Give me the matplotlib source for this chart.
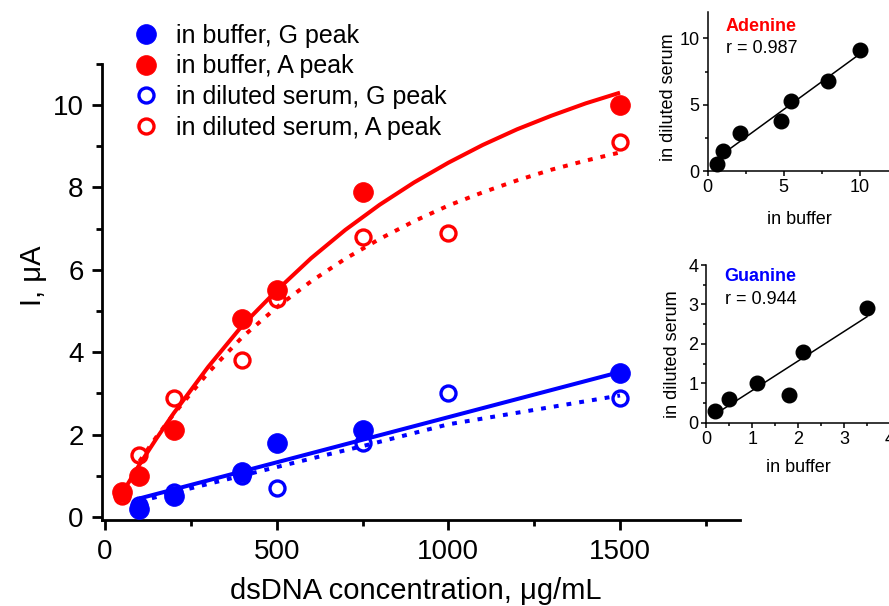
import matplotlib
matplotlib.use("Agg")
import matplotlib.pyplot as plt
import numpy as np
from matplotlib.ticker import MultipleLocator

plt.rcParams['font.family'] = ['Liberation Sans', 'DejaVu Sans']

# ---------------- data ----------------
conc_buf_A = [50, 100, 200, 400, 500, 750, 1500]
buf_A = [0.6, 1.0, 2.1, 4.8, 5.5, 7.9, 10.0]
conc_ser_A = [50, 100, 200, 400, 500, 750, 1000, 1500]
ser_A = [0.5, 1.5, 2.9, 3.8, 5.3, 6.8, 6.9, 9.1]
conc_buf_G = [100, 200, 400, 500, 750, 1500]
buf_G = [0.2, 0.5, 1.1, 1.8, 2.1, 3.5]
conc_ser_G = [100, 200, 400, 500, 750, 1000, 1500]
ser_G = [0.3, 0.6, 1.0, 0.7, 1.8, 3.0, 2.9]

# fitted curves as drawn in the picture
fit_buf_A_x = [50, 100, 150, 200, 300, 400, 500, 600, 700, 800, 900, 1000,
               1100, 1200, 1300, 1400, 1500]
fit_buf_A_y = [0.58, 1.27, 1.91, 2.52, 3.64, 4.65, 5.5, 6.28, 6.97, 7.58, 8.12, 8.6,
               9.03, 9.41, 9.74, 10.04, 10.3]
fit_ser_A_x = [100, 150, 200, 300, 400, 500, 600, 700, 800, 900, 1000,
               1100, 1200, 1300, 1400, 1500]
fit_ser_A_y = [1.35, 1.95, 2.5, 3.5, 4.37, 5.09, 5.72, 6.27, 6.75, 7.18, 7.56,
               7.88, 8.17, 8.43, 8.65, 8.85]
fit_buf_G_x = [100, 1500]
fit_buf_G_y = [0.45, 3.52]
fit_ser_G_x = [100, 270, 650, 750, 1000, 1500]
fit_ser_G_y = [0.38, 0.74, 1.52, 1.72, 2.25, 2.95]

legend_labels = ['in buffer, G peak', 'in buffer, A peak',
                 'in diluted serum, G peak', 'in diluted serum, A peak']
r_adenine = 'r = 0.987'
r_guanine = 'r = 0.944'

RED = '#ff0000'
BLUE = '#0000ff'

# ---------------- figure ----------------
fig = plt.figure(figsize=(8.89, 6.06), dpi=100)
ax = fig.add_axes([0.1151, 0.1414, 0.7175, 0.7533])

lw = 2.9
ax.plot(fit_buf_A_x, fit_buf_A_y, '-', color=RED, lw=lw, zorder=2, solid_capstyle='butt')
ax.plot(fit_ser_A_x, fit_ser_A_y, color=RED, lw=lw, dashes=(1.2, 2.0), zorder=2, dash_capstyle='butt')
ax.plot(fit_buf_G_x, fit_buf_G_y, '-', color=BLUE, lw=lw, zorder=2, solid_capstyle='butt')
ax.plot(fit_ser_G_x, fit_ser_G_y, color=BLUE, lw=lw, dashes=(1.2, 2.0), zorder=2, dash_capstyle='butt')

h_sG, = ax.plot(conc_ser_G, ser_G, 'o', ls='none', mfc='none', mec=BLUE, ms=10.8, mew=2.4, zorder=3)
h_sA, = ax.plot(conc_ser_A, ser_A, 'o', ls='none', mfc='none', mec=RED, ms=10.8, mew=2.4, zorder=3)
h_bG, = ax.plot(conc_buf_G, buf_G, 'o', ls='none', mfc=BLUE, mec=BLUE, ms=14.3, mew=0.5, zorder=4)
h_bA, = ax.plot(conc_buf_A, buf_A, 'o', ls='none', mfc=RED, mec=RED, ms=14.3, mew=0.5, zorder=4)

ax.set_xlim(-8, 1850)
ax.set_ylim(-0.08, 11)
ax.xaxis.set_major_locator(MultipleLocator(500))
ax.xaxis.set_minor_locator(MultipleLocator(250))
ax.yaxis.set_major_locator(MultipleLocator(2))
ax.yaxis.set_minor_locator(MultipleLocator(1))
for s in ['top', 'right']:
    ax.spines[s].set_visible(False)
for s in ['left', 'bottom']:
    ax.spines[s].set_linewidth(2)
ax.tick_params(which='major', length=7.5, width=2, direction='out', labelsize=20, pad=6)
ax.tick_params(which='minor', length=4, width=2, direction='out')
ax.set_xlabel('dsDNA concentration, \u03bcg/mL', fontsize=21)
ax.set_ylabel('I, \u03bcA', fontsize=21)
ax.xaxis.set_label_coords(0.492, -0.125)
ax.yaxis.set_label_coords(-0.086, 0.535)

leg = ax.legend([h_bG, h_bA, h_sG, h_sA], legend_labels, loc='upper left',
                bbox_to_anchor=(133.5 / 889, 1 - 23.5 / 606), bbox_transform=fig.transFigure,
                frameon=False, fontsize=18, numpoints=1, handlelength=1.0,
                handletextpad=0.7, labelspacing=0.27, borderpad=0, borderaxespad=0)

# ---------------- insets ----------------
def inset(rect, conc_b, vb, conc_s, vs, xlim, ylim, xmaj, xmin, ymaj, ymin,
          title, title_color, rtext, ylab_coords, xlab_coords, title_xy):
    a = fig.add_axes(rect)
    a.patch.set_alpha(0)
    sdict = dict(zip(conc_s, vs))
    xb = np.array([v for c, v in zip(conc_b, vb) if c in sdict])
    ys = np.array([sdict[c] for c in conc_b if c in sdict])
    k, b0 = np.polyfit(xb, ys, 1)
    xx = np.array([xb.min(), xb.max()])
    a.plot(xx, k * xx + b0, '-', color='black', lw=1.1, zorder=2)
    a.plot(xb, ys, 'o', color='black', ms=10.5, zorder=3, clip_on=False)
    a.set_xlim(*xlim)
    a.set_ylim(*ylim)
    a.xaxis.set_major_locator(MultipleLocator(xmaj))
    a.xaxis.set_minor_locator(MultipleLocator(xmin))
    a.yaxis.set_major_locator(MultipleLocator(ymaj))
    a.yaxis.set_minor_locator(MultipleLocator(ymin))
    for s in ['top', 'right']:
        a.spines[s].set_visible(False)
    for s in ['left', 'bottom']:
        a.spines[s].set_linewidth(1.1)
    a.tick_params(which='major', length=3.8, width=1.1, direction='out', labelsize=13, pad=2)
    a.tick_params(which='minor', length=2.2, width=1.1, direction='out')
    a.set_xlabel('in buffer', fontsize=13)
    a.set_ylabel('in diluted serum', fontsize=13)
    a.yaxis.set_label_coords(*ylab_coords)
    a.xaxis.set_label_coords(*xlab_coords)
    a.text(title_xy[0], title_xy[1], title, transform=a.transAxes, color=title_color,
           fontsize=13, fontweight='bold', ha='left', va='center')
    a.text(title_xy[0], title_xy[1] - 0.142, rtext, transform=a.transAxes, color='black',
           fontsize=13, ha='left', va='center')
    return a

inset([0.796, 0.7178, 0.2056, 0.2627], conc_buf_A, buf_A, conc_ser_A, ser_A,
      (0, 12), (0, 12), 5, 2.5, 5, 2.5, 'Adenine', RED, r_adenine,
      (-0.165, 0.465), (0.5, -0.251), (0.10, 0.91))
inset([0.7945, 0.3025, 0.2066, 0.2602], conc_buf_G, buf_G, conc_ser_G, ser_G,
      (0, 4), (0, 4), 1, 0.5, 1, 0.5, 'Guanine', BLUE, r_guanine,
      (-0.140, 0.436), (0.503, -0.233), (0.10, 0.925))

fig.savefig('out.png', dpi=100)
